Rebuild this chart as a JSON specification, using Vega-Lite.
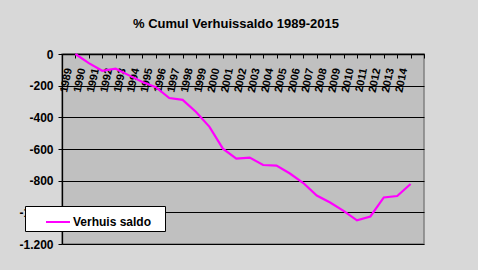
{
  "$schema": "https://vega.github.io/schema/vega-lite/v6.json",
  "autosize": {"type": "none"},
  "width": 362,
  "height": 190,
  "padding": {"left": 62, "top": 54, "right": 54, "bottom": 26},
  "background": "#d8d8d8",
  "title": {
    "text": "% Cumul Verhuissaldo 1989-2015",
    "font": "Liberation Sans",
    "fontSize": 13,
    "fontWeight": "bold",
    "color": "#000000",
    "anchor": "middle",
    "dx": -7,
    "offset": 17
  },
  "config": {
    "view": {"fill": "#c0c0c0", "stroke": "#808080", "strokeWidth": 1.5},
    "axis": {"labelFont": "Liberation Sans", "labelFontWeight": "bold", "labelColor": "#000000", "domainColor": "#000000", "tickColor": "#000000", "title": null}
  },
  "data": {
    "values": [
      {"jaar": 1989, "saldo": 0, "reeks": "Verhuis saldo"},
      {"jaar": 1990, "saldo": -58, "reeks": "Verhuis saldo"},
      {"jaar": 1991, "saldo": -106, "reeks": "Verhuis saldo"},
      {"jaar": 1992, "saldo": -93, "reeks": "Verhuis saldo"},
      {"jaar": 1993, "saldo": -135, "reeks": "Verhuis saldo"},
      {"jaar": 1994, "saldo": -177, "reeks": "Verhuis saldo"},
      {"jaar": 1995, "saldo": -210, "reeks": "Verhuis saldo"},
      {"jaar": 1996, "saldo": -278, "reeks": "Verhuis saldo"},
      {"jaar": 1997, "saldo": -290, "reeks": "Verhuis saldo"},
      {"jaar": 1998, "saldo": -366, "reeks": "Verhuis saldo"},
      {"jaar": 1999, "saldo": -460, "reeks": "Verhuis saldo"},
      {"jaar": 2000, "saldo": -598, "reeks": "Verhuis saldo"},
      {"jaar": 2001, "saldo": -661, "reeks": "Verhuis saldo"},
      {"jaar": 2002, "saldo": -654, "reeks": "Verhuis saldo"},
      {"jaar": 2003, "saldo": -701, "reeks": "Verhuis saldo"},
      {"jaar": 2004, "saldo": -705, "reeks": "Verhuis saldo"},
      {"jaar": 2005, "saldo": -755, "reeks": "Verhuis saldo"},
      {"jaar": 2006, "saldo": -815, "reeks": "Verhuis saldo"},
      {"jaar": 2007, "saldo": -894, "reeks": "Verhuis saldo"},
      {"jaar": 2008, "saldo": -938, "reeks": "Verhuis saldo"},
      {"jaar": 2009, "saldo": -991, "reeks": "Verhuis saldo"},
      {"jaar": 2010, "saldo": -1051, "reeks": "Verhuis saldo"},
      {"jaar": 2011, "saldo": -1026, "reeks": "Verhuis saldo"},
      {"jaar": 2012, "saldo": -906, "reeks": "Verhuis saldo"},
      {"jaar": 2013, "saldo": -897, "reeks": "Verhuis saldo"},
      {"jaar": 2014, "saldo": -821, "reeks": "Verhuis saldo"}
    ]
  },
  "mark": {"type": "line", "strokeWidth": 2.2, "interpolate": "linear"},
  "encoding": {
    "x": {
      "field": "jaar",
      "type": "quantitative",
      "scale": {"domain": [1988, 2015], "nice": false, "zero": false},
      "axis": {
        "orient": "bottom",
        "offset": -190,
        "values": [1988, 1989, 1990, 1991, 1992, 1993, 1994, 1995, 1996, 1997, 1998, 1999, 2000, 2001, 2002, 2003, 2004, 2005, 2006, 2007, 2008, 2009, 2010, 2011, 2012, 2013, 2014, 2015],
        "labelExpr": "datum.value < 1989 || datum.value > 2014 ? '' : '' + datum.value",
        "labelAngle": -78,
        "labelAlign": "right",
        "labelBaseline": "middle",
        "labelOffset": -6.7,
        "labelPadding": 10,
        "labelFontSize": 11,
        "labelOverlap": false,
        "labelBound": false,
        "labelFlush": false,
        "tickSize": 4,
        "grid": false,
        "domainWidth": 1.3
      }
    },
    "y": {
      "field": "saldo",
      "type": "quantitative",
      "scale": {"domain": [-1200, 0], "nice": false, "zero": false},
      "axis": {
        "values": [-1200, -1000, -800, -600, -400, -200, 0],
        "labelExpr": "datum.value == 0 ? '0' : '-' + replace(format(-datum.value, ','), ',', '.')",
        "labelFontSize": 12,
        "labelPadding": 5,
        "tickSize": 4,
        "grid": true,
        "gridColor": "#000000",
        "gridOpacity": 1,
        "gridWidth": 1.2,
        "domainWidth": 1.3
      }
    },
    "color": {
      "field": "reeks",
      "type": "nominal",
      "scale": {"range": ["#ff00ff"]},
      "legend": {
        "orient": "none",
        "legendX": -37,
        "legendY": 152,
        "title": " ",
        "titleOrient": "right",
        "titleFontSize": 2,
        "titlePadding": 11,
        "fillColor": "#ffffff",
        "strokeColor": "#000000",
        "padding": 3,
        "symbolType": "stroke",
        "symbolSize": 576,
        "symbolStrokeWidth": 2,
        "symbolOffset": 17,
        "labelFont": "Liberation Sans",
        "labelFontWeight": "bold",
        "labelFontSize": 12,
        "labelColor": "#000000",
        "labelOffset": 2
      }
    }
  }
}
